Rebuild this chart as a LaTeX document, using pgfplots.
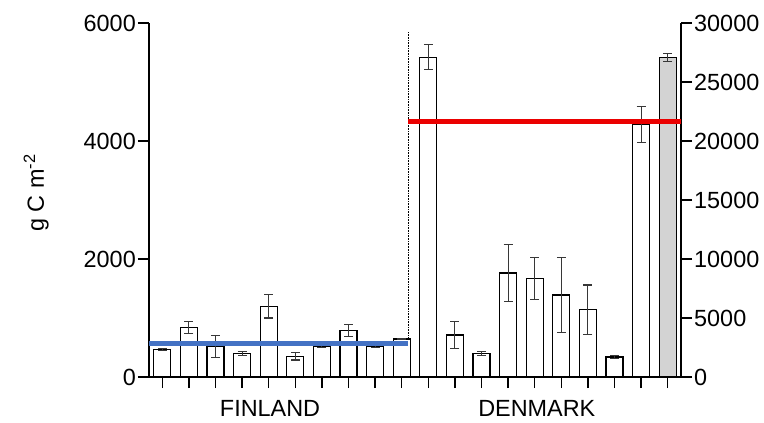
\documentclass[border=0pt]{standalone}
\usepackage{fontspec}
\setmainfont{Liberation Sans}
\usepackage{pgfplots}
\usepackage{pgfplotstable}
\pgfplotsset{compat=1.18}
\definecolor{lineblue}{RGB}{68,114,196}
\definecolor{linered}{RGB}{235,0,0}
\definecolor{bargray}{RGB}{211,211,211}
\definecolor{errgray}{RGB}{55,55,55}

\pgfplotstableread{
x y err
0 463 20
1 840 100
2 520 190
3 395 30
4 1198 198
5 350 62
6 520 25
7 785 105
8 520 20
9 644 15
}\finland

\pgfplotstableread{
x y err
10 5417 212
11 712 223
12 395 34
13 1763 483
14 1671 361
15 1390 636
16 1141 418
17 339 20
18 4276 305
}\denmark

\pgfplotstableread{
x y err
19 27085 356
}\denmarkright

\begin{document}
\begin{tikzpicture}
\useasboundingbox (-149bp,-46bp) rectangle (615bp,377bp);
\pgfplotsset{
  common/.style={
    scale only axis, width=532bp, height=354bp,
    xmin=-0.5, xmax=19.5, ymin=0,
    tick align=outside, major tick length=11bp,
    every tick/.style={black, line width=1.3pt},
    axis line style={line width=1.3pt, -},
    tick label style={font=\fontsize{23.5}{26}\selectfont, inner sep=2bp},
    /pgf/number format/assume math mode=true,
    /pgf/number format/1000 sep={},
    scaled y ticks=false, clip=false,
  },
  mybar/.style={ybar, bar width=17bp, draw=black, line width=1.1pt,
    /pgfplots/error bars/y dir=both, /pgfplots/error bars/y explicit,
    /pgfplots/error bars/error mark=-,
    /pgfplots/error bars/error bar style={line width=1.1pt, errgray},
    /pgfplots/error bars/error mark options={rotate=90, mark size=4.5bp, line width=1.1pt, errgray}},
}
\begin{axis}[common, ymax=6000,
  axis y line*=left, axis x line*=bottom,
  xtick={0,...,19}, xticklabels={},
  ytick={0,2000,4000,6000},
  ylabel={g C m\textsuperscript{-2}},
  ylabel style={at={(axis description cs:-0.212,0.52)}, anchor=center, font=\fontsize{23.5}{26}\selectfont},
]
\addplot[densely dotted, black, line width=0.6pt] coordinates {(9.25,0) (9.25,5850)};
\addplot[fill=white, mybar] table[x=x, y=y, y error=err] {\finland};
\addplot[fill=white, mybar] table[x=x, y=y, y error=err] {\denmark};
\addplot[lineblue, line width=5bp] coordinates {(-0.5,576) (9.25,576)};
\node[font=\fontsize{23.5}{26}\selectfont] at (axis cs:4.05,0) [yshift=-31bp] {FINLAND};
\node[font=\fontsize{23.5}{26}\selectfont] at (axis cs:14.08,0) [yshift=-31bp] {DENMARK};
\end{axis}
\begin{axis}[common, ymax=30000,
  axis y line*=right, axis x line=none,
  ytick={0,5000,...,30000},
]
\addplot[fill=bargray, mybar] table[x=x, y=y, y error=err] {\denmarkright};
\addplot[linered, line width=5bp] coordinates {(9.25,21660) (19.5,21660)};
\end{axis}
\end{tikzpicture}
\end{document}
